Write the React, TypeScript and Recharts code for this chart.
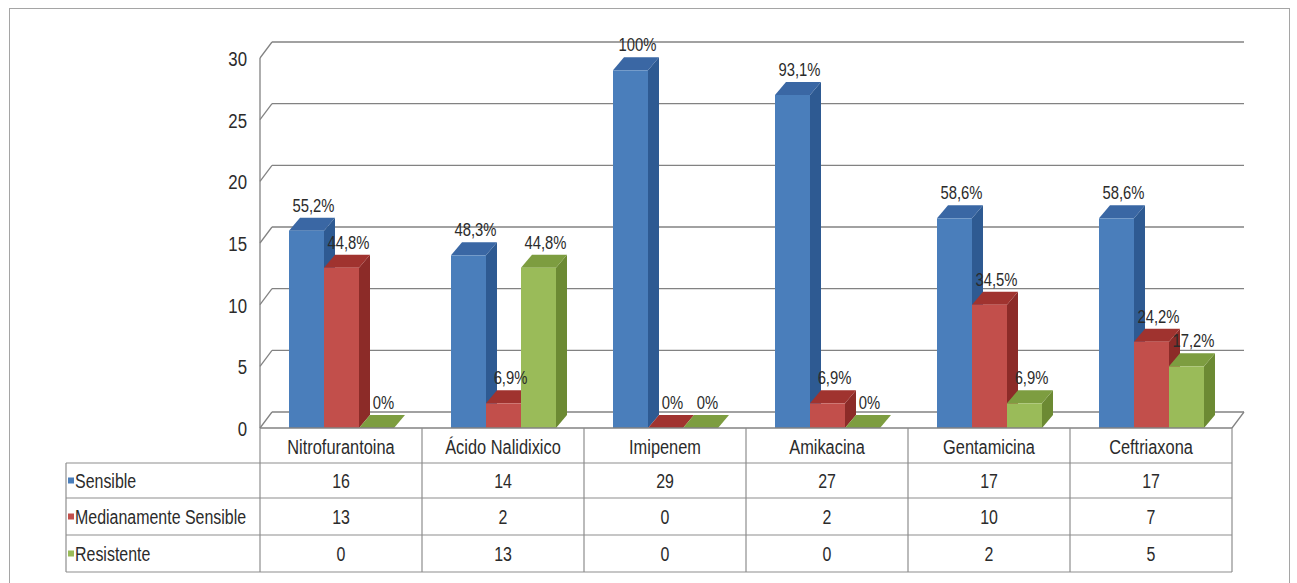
import { Bar, BarChart, CartesianGrid, LabelList, XAxis, YAxis } from "recharts";

const categories = ["Nitrofurantoina", "Ácido Nalidixico", "Imipenem", "Amikacina", "Gentamicina", "Ceftriaxona"];
const sensible = [16, 14, 29, 27, 17, 17];
const medianamente = [13, 2, 0, 2, 10, 7];
const resistente = [0, 13, 0, 0, 2, 5];
const sensiblePct = ["55,2%", "48,3%", "100%", "93,1%", "58,6%", "58,6%"];
const medianamentePct = ["44,8%", "6,9%", "0%", "6,9%", "34,5%", "24,2%"];
const resistentePct = ["0%", "44,8%", "0%", "0%", "6,9%", "17,2%"];
const yTicks = [0, 5, 10, 15, 20, 25, 30];
const yMax = 30;

const series = [
  { key: "sensible", name: "Sensible", values: sensible, front: "#4a7ebb", side: "#2e5a92", top: "#3a67a4" },
  { key: "medianamente", name: "Medianamente Sensible", values: medianamente, front: "#c24f4b", side: "#8c2b28", top: "#a0332f" },
  { key: "resistente", name: "Resistente", values: resistente, front: "#9abb59", side: "#6c8a33", top: "#7d9d40" },
];

const data = categories.map((name, i) => ({
  name,
  sensible: sensible[i],
  medianamente: medianamente[i],
  resistente: resistente[i],
  sensiblePct: sensiblePct[i],
  medianamentePct: medianamentePct[i],
  resistentePct: resistentePct[i],
}));

const FONT = '"Liberation Sans", Arial, sans-serif';
const W = 1297;
const H = 583;
const PLOT_LEFT = 260;
const PLOT_RIGHT = 1232;
const PLOT_TOP = 58;
const PLOT_BOTTOM = 428;
// depth of the back wall and of the columns
const WALL_DX = 12;
const WALL_DY = 16;
const BAR_DX = 11;
const BAR_DY = 13;
const GRID = "#828282";
const TABLE_LINE = "#8e8e8e";
const ROWS = [463, 498, 535, 572];
const TABLE_LEFT = 66;
const TEXT = "#2b2b2b";

// Arial squeezed horizontally, to look like Arial Narrow
function NarrowText({ x, y, size, anchor = "start", sx = 0.78, children }: any) {
  return (
    <text transform={`translate(${x},${y}) scale(${sx},1)`} textAnchor={anchor} fontFamily={FONT} fontSize={size} fill={TEXT}>
      {children}
    </text>
  );
}

function makeShape(side: string, top: string) {
  return (props: any) => {
    const { x, y, width, height, fill } = props;
    const h = Math.max(0, height || 0);
    const r = x + width;
    return (
      <g>
        <polygon points={`${r},${y} ${r + BAR_DX},${y - BAR_DY} ${r + BAR_DX},${y + h - BAR_DY} ${r},${y + h}`} fill={side} />
        <polygon points={`${x},${y} ${x + BAR_DX},${y - BAR_DY} ${r + BAR_DX},${y - BAR_DY} ${r},${y}`} fill={top} />
        {h > 0 && <rect x={x} y={y} width={width} height={h} fill={fill} />}
      </g>
    );
  };
}

function PctLabel(props: any) {
  const vb = props.viewBox && props.viewBox.width !== undefined ? props.viewBox : props;
  const { x, y, width } = vb;
  return (
    <NarrowText x={x + width / 2 + 7} y={y - 19} size={19} anchor="middle" sx={0.78}>
      {props.value}
    </NarrowText>
  );
}

function YTick(props: any) {
  const { y, payload } = props;
  return (
    <g>
      <line x1={PLOT_LEFT} y1={y} x2={PLOT_LEFT + WALL_DX} y2={y - WALL_DY} stroke={GRID} strokeWidth={1.3} />
      {payload.value === 0 && (
        <line x1={PLOT_RIGHT} y1={y} x2={PLOT_RIGHT + WALL_DX} y2={y - WALL_DY} stroke={GRID} strokeWidth={1.3} />
      )}
      <NarrowText x={247} y={y + 8} size={21} anchor="end" sx={0.8}>
        {payload.value}
      </NarrowText>
    </g>
  );
}

function XTick(props: any) {
  const { x, payload } = props;
  return (
    <NarrowText x={x} y={PLOT_BOTTOM + 26} size={21} anchor="middle">
      {payload.value}
    </NarrowText>
  );
}

// back-wall gridlines: the y scale's positions pushed back by the wall depth
function backWallLines({ yAxis, offset }: any) {
  const sc = yAxis && yAxis.scale;
  let toY: (v: number) => number;
  if (typeof sc === "function") toY = (v) => sc(v);
  else if (sc && typeof sc.map === "function") toY = (v) => sc.map(v);
  else toY = (v) => offset.top + offset.height * (1 - v / yMax);
  return yTicks.map((t) => toY(t) - WALL_DY);
}

function DataTable() {
  const colW = (PLOT_RIGHT - PLOT_LEFT) / categories.length;
  return (
    <svg width={W} height={H} style={{ position: "absolute", left: 0, top: 0, pointerEvents: "none" }}>
      {ROWS.map((ry) => (
        <line key={ry} x1={TABLE_LEFT} y1={ry} x2={PLOT_RIGHT} y2={ry} stroke={TABLE_LINE} strokeWidth={1.2} />
      ))}
      <line x1={TABLE_LEFT} y1={ROWS[0]} x2={TABLE_LEFT} y2={ROWS[3]} stroke={TABLE_LINE} strokeWidth={1.2} />
      {categories.map((_, i) => (
        <line key={i} x1={PLOT_LEFT + colW * (i + 1)} y1={PLOT_BOTTOM} x2={PLOT_LEFT + colW * (i + 1)} y2={ROWS[3]} stroke={TABLE_LINE} strokeWidth={1.2} />
      ))}
      <line x1={PLOT_LEFT} y1={PLOT_BOTTOM} x2={PLOT_LEFT} y2={ROWS[3]} stroke={TABLE_LINE} strokeWidth={1.2} />
      {series.map((s, r) => {
        const cy = (ROWS[r] + ROWS[r + 1]) / 2;
        return (
          <g key={s.key}>
            <rect x={TABLE_LEFT + 2} y={cy - 3} width={6} height={6} fill={s.front} />
            <NarrowText x={TABLE_LEFT + 9} y={cy + 7.5} size={21} sx={0.76}>
              {s.name}
            </NarrowText>
            {s.values.map((v, i) => (
              <NarrowText key={i} x={PLOT_LEFT + colW * (i + 0.5)} y={cy + 7.5} size={21} anchor="middle" sx={0.76}>
                {v}
              </NarrowText>
            ))}
          </g>
        );
      })}
    </svg>
  );
}

export default function App() {
  return (
    <div style={{ position: "absolute", left: 0, top: 0, width: W, height: H, background: "#fff", overflow: "hidden" }}>
      <div style={{ position: "absolute", left: 9, top: 8, width: 1281, height: 600, border: "1px solid #a5a5a5", boxSizing: "border-box" }} />
      <BarChart
        width={W}
        height={H}
        data={data}
        margin={{ top: PLOT_TOP, right: W - PLOT_RIGHT, bottom: H - PLOT_BOTTOM - 35, left: PLOT_LEFT - 60 }}
        barGap={0}
        barSize={35}
        style={{ position: "absolute", left: 0, top: 0 }}
      >
        <CartesianGrid
          vertical={false}
          stroke={GRID}
          strokeWidth={1.3}
          x={PLOT_LEFT + WALL_DX}
          width={PLOT_RIGHT - PLOT_LEFT}
          horizontalCoordinatesGenerator={backWallLines}
        />
        <XAxis dataKey="name" height={35} axisLine={{ stroke: GRID, strokeWidth: 1.3 }} tickLine={false} tick={<XTick />} interval={0} />
        <YAxis width={60} domain={[0, yMax]} ticks={yTicks} axisLine={{ stroke: GRID, strokeWidth: 1.3 }} tickLine={false} tick={<YTick />} interval={0} />
        {series.map((s) => (
          <Bar key={s.key} dataKey={s.key} fill={s.front} shape={makeShape(s.side, s.top)} isAnimationActive={false}>
            <LabelList dataKey={`${s.key}Pct`} content={<PctLabel />} />
          </Bar>
        ))}
      </BarChart>
      <DataTable />
    </div>
  );
}
